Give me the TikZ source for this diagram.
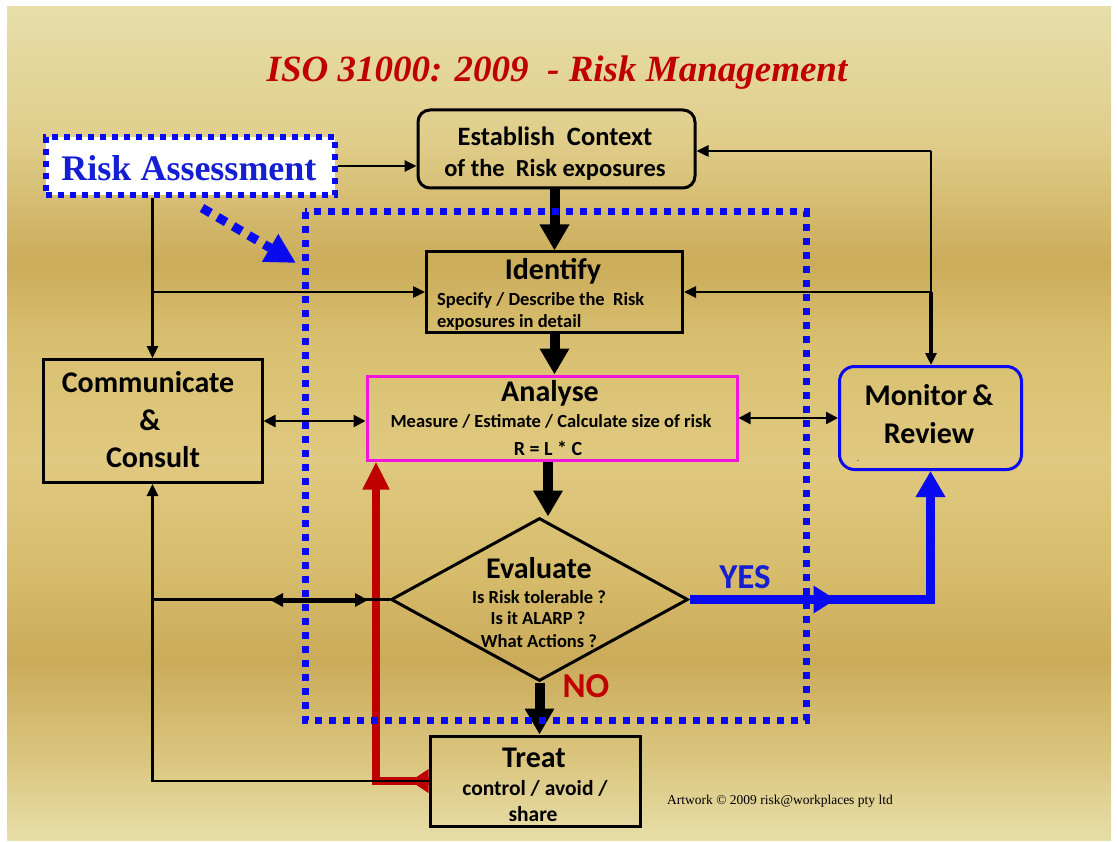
\documentclass[tikz,border=0pt]{standalone}
\usepackage{fontspec}
\setmainfont{Carlito}
\newfontfamily\timesfont{Liberation Serif}
\usetikzlibrary{arrows.meta,shapes.geometric}

\definecolor{bgA}{RGB}{231,222,170}
\definecolor{bgB}{RGB}{224,205,138}
\definecolor{bgC}{RGB}{203,172,90}
\definecolor{bgD}{RGB}{216,191,112}
\definecolor{bgE}{RGB}{224,201,128}
\definecolor{bgF}{RGB}{214,188,108}
\definecolor{bgG}{RGB}{202,171,90}
\definecolor{bgH}{RGB}{219,198,128}
\definecolor{bgI}{RGB}{231,222,168}
\definecolor{titlered}{RGB}{192,0,0}
\definecolor{linkred}{RGB}{190,0,0}
\definecolor{pureblue}{RGB}{10,10,240}
\definecolor{textblue}{RGB}{20,30,210}
\definecolor{magentaline}{RGB}{240,20,220}

\tikzset{
  box/.style={draw=black, line width=3pt, inner sep=0pt},
  thinline/.style={draw=black, line width=2.5pt},
  thinarrow/.style={thinline, -{Triangle[length=12pt,width=11pt]}},
  twoway/.style={thinline, {Triangle[length=12pt,width=12pt]}-{Triangle[length=12pt,width=12pt]}},
  bigarrow/.style={draw=black, line width=10pt, -{Triangle[length=26pt,width=28pt]}},
  dotframe/.style={draw=pureblue, line width=7pt, dash pattern=on 7pt off 7pt},
  head/.style={font=\fontsize{30}{30}\selectfont\bfseries, anchor=base, inner sep=0pt},
  small/.style={font=\fontsize{18.5}{18.5}\selectfont\bfseries, anchor=base, inner sep=0pt},
}

\begin{document}
\begin{tikzpicture}[x=1pt,y=-1pt]
\useasboundingbox (0,0) rectangle (1118,842);
\fill[white] (0,0) rectangle (1118,842);

% gold backdrop in vertical bands
\shade[top color=bgA, bottom color=bgB] (7,7) rectangle (1111,140.5);
\shade[top color=bgB, bottom color=bgC] (7,140) rectangle (1111,262.5);
\shade[top color=bgC, bottom color=bgD] (7,262) rectangle (1111,340.5);
\shade[top color=bgD, bottom color=bgE] (7,340) rectangle (1111,460.5);
\shade[top color=bgE, bottom color=bgF] (7,460) rectangle (1111,570.5);
\shade[top color=bgF, bottom color=bgG] (7,570) rectangle (1111,660.5);
\shade[top color=bgG, bottom color=bgH] (7,660) rectangle (1111,760.5);
\shade[top color=bgH, bottom color=bgI] (7,760) rectangle (1111,840);

% title
\node[anchor=base, inner sep=0pt, text=titlered,
      font=\timesfont\fontsize{37}{37}\selectfont\bfseries\itshape] (title) at (557,82)
      {ISO 31000: 2009 \ - Risk Management};

% boxes
\node[draw=pureblue, fill=white, line width=6pt, dash pattern=on 6pt off 6pt,
      minimum width=289, minimum height=58, inner sep=0pt] (ra) at (190.5,166) {};
\node[box, rounded corners=12pt, minimum width=277, minimum height=78] (ctx) at (556.5,149) {};
\node[box, minimum width=256, minimum height=80] (idf) at (554.5,292) {};
\node[box, draw=magentaline, minimum width=370, minimum height=84] (ana) at (552,418) {};
\node[box, diamond, minimum width=297, minimum height=163, aspect=1.82] (eva) at (539.5,599.5) {};
\node[box, minimum width=210, minimum height=90] (treat) at (535,781) {};
\node[box, minimum width=219, minimum height=123] (comm) at (152.5,421) {};
\node[box, draw=pureblue, rounded corners=15pt, minimum width=182, minimum height=103] (mon) at (930.5,418) {};

% texts
\node[anchor=base, inner sep=0pt, text=textblue,
      font=\timesfont\fontsize{36}{36}\selectfont\bfseries] (raT) at (189,181) {Risk Assessment};
\node[head, font=\fontsize{26.5}{26.5}\selectfont\bfseries] (ctxA) at (555,146) {Establish \ Context};
\node[head, font=\fontsize{24.5}{24.5}\selectfont\bfseries] (ctxB) at (555,177) {of the \ Risk exposures};
\node[head] (idfA) at (553,279) {Identify};
\node[small, anchor=base west] (idfB) at (437,305) {Specify / Describe the \ Risk};
\node[small, anchor=base west] (idfC) at (437,327) {exposures in detail};
\node[head] (anaA) at (550,401) {Analyse};
\node[small] (anaB) at (551,427) {Measure / Estimate / Calculate size of risk};
\node[small, font=\fontsize{20}{20}\selectfont\bfseries] (anaC) at (548,455) {R = L * C};
\node[head] (evaA) at (539,578) {Evaluate};
\node[small] (evaB) at (539,603) {Is Risk tolerable ?};
\node[small] (evaC) at (538,624) {Is it ALARP ?};
\node[small] (evaD) at (539,647) {What Actions ?};
\node[head] (trA) at (534,767) {Treat};
\node[head, font=\fontsize{21.5}{21.5}\selectfont\bfseries] (trB) at (535,795) {control / avoid /};
\node[head, font=\fontsize{21.5}{21.5}\selectfont\bfseries] (trC) at (533,821) {share};
\node[head] (coA) at (148,392) {Communicate};
\node[head] (coB) at (150,430) {\&};
\node[head] (coC) at (153,467) {Consult};
\node[head] (moA) at (929,405) {Monitor\,\&};
\node[head] (moB) at (929,443) {Review};
\node[anchor=base, inner sep=0pt, font=\fontsize{6}{6}\selectfont] (moTick) at (858,462) {-};
\node[head, font=\fontsize{35}{35}\selectfont\bfseries, text=textblue] (yes) at (745,588) {YES};
\node[head, font=\fontsize{35}{35}\selectfont\bfseries, text=titlered] (no) at (586,697) {NO};
\node[anchor=base west, inner sep=0pt, font=\timesfont\fontsize{13.5}{13.5}\selectfont] (credit) at (667,804)
      {Artwork \textcopyright\ 2009 risk@workplaces pty ltd};

% junction points
\coordinate (lj) at (comm.north |- idf.west);
\coordinate (rtop) at (931,151);
\coordinate (rmid) at (931,292);
\coordinate (lbot) at (comm.south |- treat.west);
\coordinate (lev) at (comm.south |- eva.west);
\coordinate (evL) at (270,600);
\coordinate (evR) at (368,600);
\coordinate (redB) at (376,781);
\coordinate (yesC) at (mon.south |- eva.east);
\coordinate (diagA) at (202,208);
\coordinate (diagB) at (296,263);

% red return path from Treat up to Analyse
\draw[linkred, line width=8pt, -{Triangle[length=28pt,width=25pt]}]
  (treat.west) -- (redB) -- (redB |- ana.south);
\fill[linkred] ([yshift=12pt]treat.west) -- ++(-18,12) -- ++(18,12) -- cycle;

% thin connectors
\draw[thinarrow] (ra.east) -- (ra.east -| ctx.west);
\draw[thinarrow] (ra.south -| comm.north) -- (comm.north);
\draw[thinarrow] (lj) -- (idf.west);
\draw[thinarrow] (rtop) -- (rtop -| ctx.east);
\draw[thinline] (rtop) -- (rmid);
\draw[thinarrow, line width=3.5pt] (rmid) -- (rmid |- mon.north);
\draw[thinarrow] (rmid) -- (rmid -| idf.east);
\draw[twoway] (comm.east) -- (comm.east -| ana.west);
\draw[twoway] (ana.east) -- (ana.east -| mon.west);
\draw[thinarrow] (treat.west) -- (lbot) -- (comm.south);
\draw[thinline] (lev) -- (eva.west);
\draw[thinline, line width=5pt, {Triangle[length=13pt,width=13pt]}-{Triangle[length=13pt,width=13pt]}] (evL) -- (evR);

% main flow
\draw[bigarrow] (ctx.south -| idf.north) -- (idf.north);
\draw[bigarrow] (idf.south) -- (ana.north -| idf.south);
\draw[bigarrow] ([xshift=-4]ana.south) -- ([xshift=-4]ana.south |- eva.north);
\draw[bigarrow] (eva.south) -- (eva.south |- treat.north);

% YES branch to Monitor & Review
\draw[pureblue, line width=9pt, -{Triangle[length=26pt,width=28pt]}]
  (eva.east) -- (yesC) -- (mon.south);
\fill[pureblue] ([xshift=124, yshift=14pt]eva.east) -- ++(22,14) -- ++(-22,14) -- cycle;

% risk-assessment scope
\draw[dotframe] (305,212) rectangle (806,720);
\draw[pureblue, line width=9pt, dash pattern=on 10pt off 8pt,
      -{Triangle[length=30pt,width=30pt]}] (diagA) -- (diagB);
\end{tikzpicture}
\end{document}
